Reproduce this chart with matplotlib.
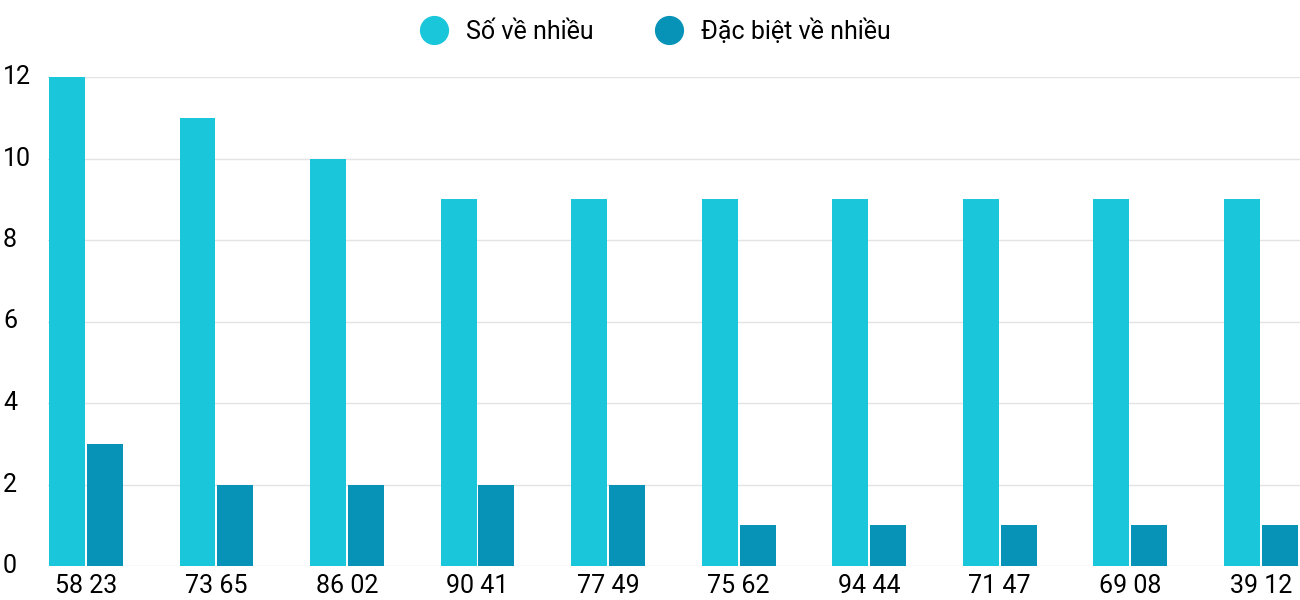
import matplotlib
matplotlib.use('Agg')
import matplotlib.pyplot as plt
import matplotlib.transforms as mtransforms
import numpy as np
from matplotlib.lines import Line2D

plt.rcParams['font.family'] = ['Roboto', 'DejaVu Sans']

labels = ['58 23', '73 65', '86 02', '90 41', '77 49', '75 62', '94 44', '71 47', '69 08', '39 12']
so_ve_nhieu = [12, 11, 10, 9, 9, 9, 9, 9, 9, 9]
dac_biet = [3, 2, 2, 2, 2, 1, 1, 1, 1, 1]
yticks = list(range(0, 13, 2))

C1 = '#1AC6DA'
C2 = '#0793B8'

fig = plt.figure(figsize=(13, 6), dpi=100)
ax = fig.add_axes([48/1300, 34/600, 1 - 48/1300, (566-77)/600])

x = np.arange(len(labels))
w = 0.275
ax.bar(x - 0.145, so_ve_nhieu, w, color=C1, zorder=3)
ax.bar(x + 0.145, dac_biet, w, color=C2, zorder=3)

ax.set_xlim(-0.29, 9.3)
ax.set_ylim(0, 12)
ax.set_yticks(yticks)
ax.set_yticklabels([])
ax.set_xticks(x)
ax.set_xticklabels(labels, fontsize=18)
ax.tick_params(axis='y', length=0)
ax.tick_params(axis='x', length=0, pad=6)
trans = mtransforms.blended_transform_factory(fig.transFigure, ax.transData)
for v in yticks:
    fig.text(3/1300, v, str(v), transform=trans, fontsize=18, ha='left', va='center')
ax.grid(axis='y', color='#E3E3E3', linewidth=1, zorder=0)
for s in ax.spines.values():
    s.set_visible(False)

handles = [Line2D([], [], marker='o', ls='', color=C1, markersize=20, label='Số về nhiều'),
           Line2D([], [], marker='o', ls='', color=C2, markersize=20, label='Đặc biệt về nhiều')]
fig.legend(handles=handles, loc='upper center', bbox_to_anchor=(0.5, 1.007), ncol=2,
           frameon=False, fontsize=18, handletextpad=0.3, columnspacing=2)

fig.savefig('out.png')
